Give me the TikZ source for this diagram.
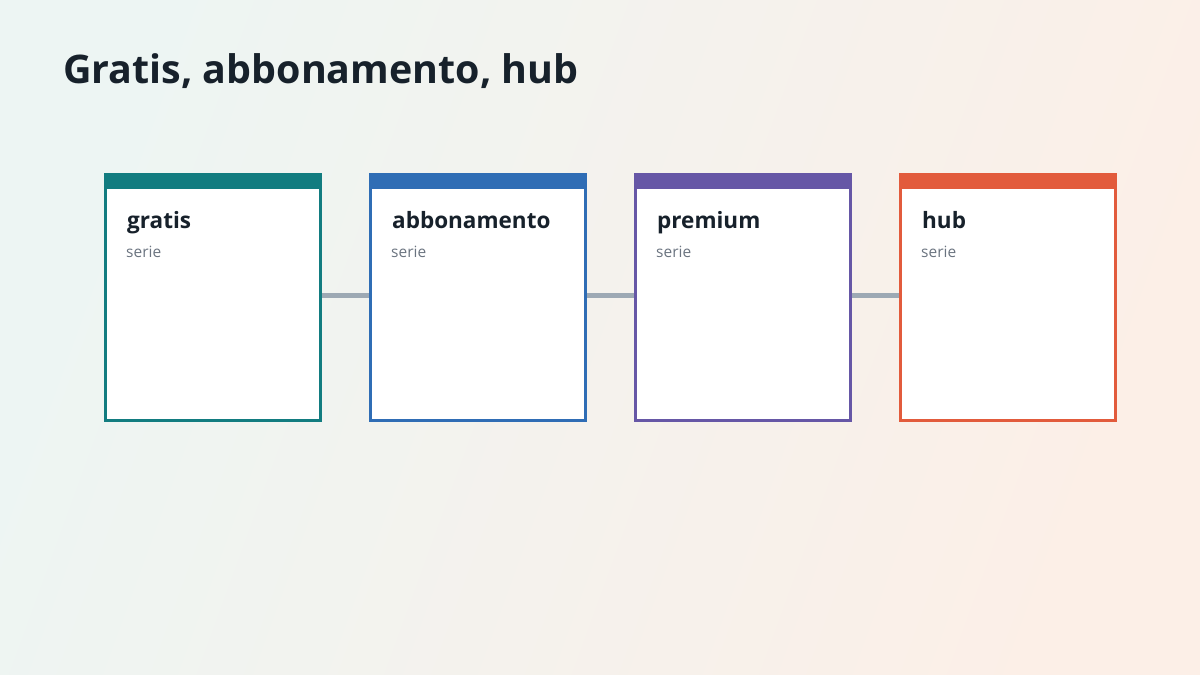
\documentclass[tikz,border=0pt]{standalone}
\usepackage{fontspec}
\setmainfont{Open Sans}
\usetikzlibrary{positioning}

\definecolor{bgleft}{HTML}{EDF5F3}
\definecolor{bgright}{HTML}{FCEFE7}
\definecolor{titlecol}{HTML}{17212B}
\definecolor{subcol}{HTML}{6B7480}
\definecolor{linkcol}{HTML}{9DA9B4}
\definecolor{cteal}{HTML}{127C80}
\definecolor{cblue}{HTML}{2F6DB5}
\definecolor{cpurple}{HTML}{6657A6}
\definecolor{corange}{HTML}{E25B3C}

\begin{document}
\begin{tikzpicture}[x=1pt,y=-1pt,
  card/.style={draw, fill=white, line width=3pt, minimum width=215pt, minimum height=246pt, inner sep=0pt},
  cardtitle/.style={anchor=base west, inner sep=0pt, font=\fontsize{22.5}{26}\selectfont\bfseries, text=titlecol},
  cardsub/.style={anchor=base west, inner sep=0pt, font=\fontsize{15.5}{18}\selectfont, text=subcol},
  link/.style={draw=linkcol, line width=5pt},
  node distance=47pt]
  % background
  \shade[left color=bgleft, right color=bgright, shading angle=70] (0,0) rectangle (1200,675);
  \useasboundingbox (0,0) rectangle (1200,675);

  \node[anchor=base west, inner sep=0pt, text=titlecol, font=\fontsize{39.4}{46}\selectfont\bfseries] (title) at (63,83) {Gratis, abbonamento, hub};

  % cards
  \node[card, draw=cteal] (gratis) at (213,297.5) {};
  \node[card, draw=cblue, right=of gratis] (abbonamento) {};
  \node[card, draw=cpurple, right=of abbonamento] (premium) {};
  \node[card, draw=corange, right=of premium] (hub) {};

  \fill[cteal] (gratis.north west) rectangle ([yshift=-16pt]gratis.north east);
  \fill[cblue] (abbonamento.north west) rectangle ([yshift=-16pt]abbonamento.north east);
  \fill[cpurple] (premium.north west) rectangle ([yshift=-16pt]premium.north east);
  \fill[corange] (hub.north west) rectangle ([yshift=-16pt]hub.north east);

  \node[cardtitle] (gratisT) at ([xshift=23pt,yshift=-55pt]gratis.north west) {gratis};
  \node[cardsub] (gratisS) at ([xshift=22pt,yshift=-84pt]gratis.north west) {serie};
  \node[cardtitle] (abbonamentoT) at ([xshift=23pt,yshift=-55pt]abbonamento.north west) {abbonamento};
  \node[cardsub] (abbonamentoS) at ([xshift=22pt,yshift=-84pt]abbonamento.north west) {serie};
  \node[cardtitle] (premiumT) at ([xshift=23pt,yshift=-55pt]premium.north west) {premium};
  \node[cardsub] (premiumS) at ([xshift=22pt,yshift=-84pt]premium.north west) {serie};
  \node[cardtitle] (hubT) at ([xshift=23pt,yshift=-55pt]hub.north west) {hub};
  \node[cardsub] (hubS) at ([xshift=22pt,yshift=-84pt]hub.north west) {serie};

  % connectors
  \path[link]
    ([yshift=2.5pt]gratis.east) edge ([yshift=2.5pt]abbonamento.west)
    ([yshift=2.5pt]abbonamento.east) edge ([yshift=2.5pt]premium.west)
    ([yshift=2.5pt]premium.east) edge ([yshift=2.5pt]hub.west);
\end{tikzpicture}
\end{document}
